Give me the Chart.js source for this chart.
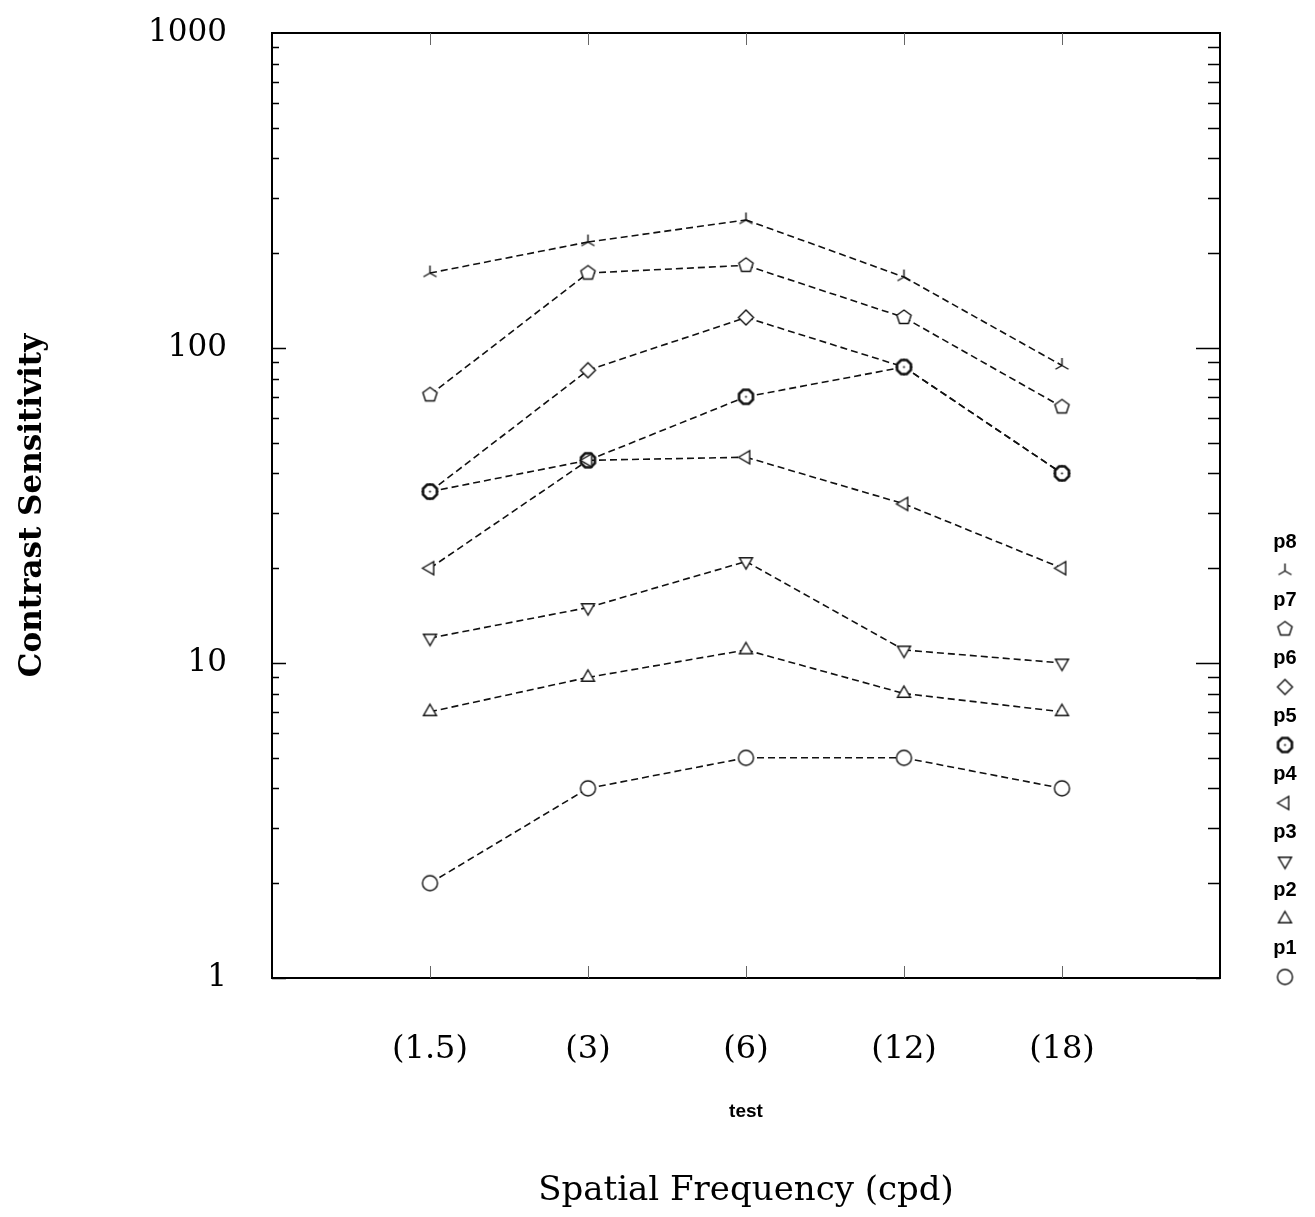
<!DOCTYPE html>
<html>
<head>
<meta charset="utf-8">
<title>Contrast Sensitivity</title>
<script src="https://cdn.jsdelivr.net/npm/chart.js@4/dist/chart.umd.min.js"></script>
<style>
  html, body { margin: 0; padding: 0; background: #fff; }
  #wrap { width: 1315px; height: 1217px; }
</style>
</head>
<body>
<div id="wrap"><canvas id="csf" width="1315" height="1217"></canvas></div>
<script>
'use strict';

// data
const categories = ['(1.5)', '(3)', '(6)', '(12)', '(18)'];
const xPositions = [1, 2, 3, 4, 5];
const yTickValues = [1, 10, 100, 1000];

const seriesLabels = ['p1', 'p2', 'p3', 'p4', 'p5', 'p6', 'p7', 'p8'];
const p1 = [2, 4, 5, 5, 4];
const p2 = [7, 9, 11, 8, 7];
const p3 = [12, 15, 21, 11, 10];
const p4 = [20, 44, 45, 32, 20];
const p5 = [35, 44, 70, 87, 40];
const p6 = [35, 85, 125, 87, 40];
const p7 = [71, 173, 183, 125, 65];
const p8 = [173, 217, 255, 168, 88];
const seriesValues = [p1, p2, p3, p4, p5, p6, p7, p8];
const markerKinds = ['circle', 'triUp', 'triDown', 'triLeft', 'octagon', 'diamond', 'pentagon', 'tristar'];

// marker glyphs (open, white filled)
function makeMarker(kind, r, lw) {
    const c = document.createElement('canvas');
    const s = Math.ceil(2 * r + 6);
    c.width = s; c.height = s;
    const g = c.getContext('2d');
    const cx = s / 2, cy = s / 2;
    g.strokeStyle = '#111';
    g.fillStyle = '#fff';
    g.lineWidth = lw;

    const poly = (n, start) => {
        g.beginPath();
        for (let i = 0; i < n; i++) {
            const a = (start + i * 360 / n) * Math.PI / 180;
            const px = cx + r * Math.cos(a), py = cy + r * Math.sin(a);
            i ? g.lineTo(px, py) : g.moveTo(px, py);
        }
        g.closePath();
        g.fill();
        g.stroke();
    };

    if (kind === 'circle') {
        g.beginPath();
        g.arc(cx, cy, r, 0, Math.PI * 2);
        g.fill();
        g.stroke();
    } else if (kind === 'triUp') poly(3, -90);
    else if (kind === 'triDown') poly(3, 90);
    else if (kind === 'triLeft') poly(3, 180);
    else if (kind === 'diamond') poly(4, -90);
    else if (kind === 'pentagon') poly(5, -90);
    else if (kind === 'octagon') {
        poly(8, 22.5);
        g.beginPath();
        g.arc(cx, cy, 1, 0, Math.PI * 2);
        g.fillStyle = '#111';
        g.fill();
    } else if (kind === 'tristar') {
        g.beginPath();
        [-90, 30, 150].forEach(d => {
            const a = d * Math.PI / 180;
            g.moveTo(cx, cy);
            g.lineTo(cx + r * Math.cos(a), cy + r * Math.sin(a));
        });
        g.stroke();
    }
    return c;
}

const markers = markerKinds.map(k => makeMarker(k, 7.5, k === 'octagon' ? 2.6 : 1.4));

const datasets = seriesLabels.map((label, i) => ({
    label: label,
    data: seriesValues[i].map((v, j) => ({ x: xPositions[j], y: v })),
    borderColor: '#111',
    borderWidth: 1.6,
    borderDash: [7, 4],
    // a tiny per-segment difference makes every segment its own stroke,
    // so dashes restart at each point and overlapping segments stay dashed
    segment: { borderDash: c => [7, 4 + c.p0DataIndex * 0.001] },
    pointStyle: markers[i],
    pointRadius: 7,
    pointHoverRadius: 7,
    fill: false,
    tension: 0
}));

// frame, inward ticks, legend and the small "test" label
const framePlugin = {
    id: 'frame',
    afterDraw(chart) {
        const ctx = chart.ctx;
        const { left, right, top, bottom } = chart.chartArea;
        const ys = chart.scales.y;
        const xs = chart.scales.x;
        ctx.save();

        ctx.strokeStyle = '#000';
        ctx.lineWidth = 2;
        ctx.strokeRect(left, top, right - left, bottom - top);

        // log ticks on left and right
        ctx.lineWidth = 1.5;
        for (let d = 1; d < 1000; d *= 10) {
            for (let m = 1; m <= 9; m++) {
                const py = Math.round(ys.getPixelForValue(m * d)) + 0.5;
                const major = m === 1;
                ctx.beginPath();
                ctx.moveTo(left, py);
                ctx.lineTo(left + (major ? 14 : 7), py);
                ctx.moveTo(right, py);
                ctx.lineTo(right - (major ? 24 : 12), py);
                ctx.stroke();
            }
        }

        // category ticks on top and bottom
        ctx.lineWidth = 1;
        ctx.strokeStyle = '#666';
        xPositions.forEach(p => {
            const px = Math.round(xs.getPixelForValue(p)) + 0.5;
            ctx.beginPath();
            ctx.moveTo(px, top);
            ctx.lineTo(px, top + 12);
            ctx.moveTo(px, bottom);
            ctx.lineTo(px, bottom - 12);
            ctx.stroke();
        });

        // "test" label under the category labels
        ctx.fillStyle = '#000';
        ctx.font = 'bold 19px "Liberation Sans", Arial, sans-serif';
        ctx.textAlign = 'center';
        ctx.textBaseline = 'middle';
        ctx.fillText('test', xs.getPixelForValue(3), 1112);

        // legend, top item is the last series
        ctx.font = 'bold 20px "Liberation Sans", Arial, sans-serif';
        const lx = 1285;
        let ly = 542;
        for (let i = chart.data.datasets.length - 1; i >= 0; i--) {
            const ds = chart.data.datasets[i];
            ctx.fillText(ds.label, lx, ly);
            const img = ds.pointStyle;
            ctx.drawImage(img, lx - img.width / 2, ly + 29 - img.height / 2);
            ly += 58;
        }
        ctx.restore();
    }
};

new Chart(document.getElementById('csf'), {
    type: 'line',
    data: { datasets: datasets },
    options: {
        responsive: false,
        animation: false,
        devicePixelRatio: 1,
        layout: { padding: { top: 33, right: 95, left: 0, bottom: 0 } },
        plugins: {
            legend: { display: false },
            tooltip: { enabled: false }
        },
        scales: {
            x: {
                type: 'linear',
                min: 0,
                max: 6,
                grid: { display: false },
                border: { display: false },
                afterBuildTicks: scale => { scale.ticks = xPositions.map(v => ({ value: v })); },
                afterFit: scale => {
                    scale.height = 239;
                    scale.paddingLeft = 0;
                    scale.paddingRight = 0;
                },
                ticks: {
                    autoSkip: false,
                    maxRotation: 0,
                    padding: 44,
                    color: '#000',
                    font: { family: '"DejaVu Serif", "Liberation Serif", serif', size: 32 },
                    callback: (v) => categories[xPositions.indexOf(v)] || ''
                },
                title: {
                    display: true,
                    text: 'Spatial Frequency (cpd)',
                    color: '#000',
                    font: { family: '"DejaVu Serif", "Liberation Serif", serif', size: 34, lineHeight: 1.2 },
                    padding: { top: 0, bottom: 5 }
                }
            },
            y: {
                type: 'logarithmic',
                min: 1,
                max: 1000,
                grid: { display: false },
                border: { display: false },
                afterBuildTicks: scale => { scale.ticks = yTickValues.map(v => ({ value: v })); },
                afterFit: scale => {
                    scale.width = 272;
                    scale.paddingTop = 0;
                    scale.paddingBottom = 0;
                },
                ticks: {
                    padding: 37,
                    color: '#000',
                    font: { family: '"DejaVu Serif", "Liberation Serif", serif', size: 31 },
                    callback: (v) => String(v)
                },
                title: {
                    display: true,
                    text: 'Contrast Sensitivity',
                    color: '#000',
                    font: { family: '"DejaVu Serif", "Liberation Serif", serif', size: 31, weight: 'bold', lineHeight: 1.2 },
                    padding: { top: 14, bottom: 0 }
                }
            }
        }
    },
    plugins: [framePlugin]
});
</script>
</body>
</html>
